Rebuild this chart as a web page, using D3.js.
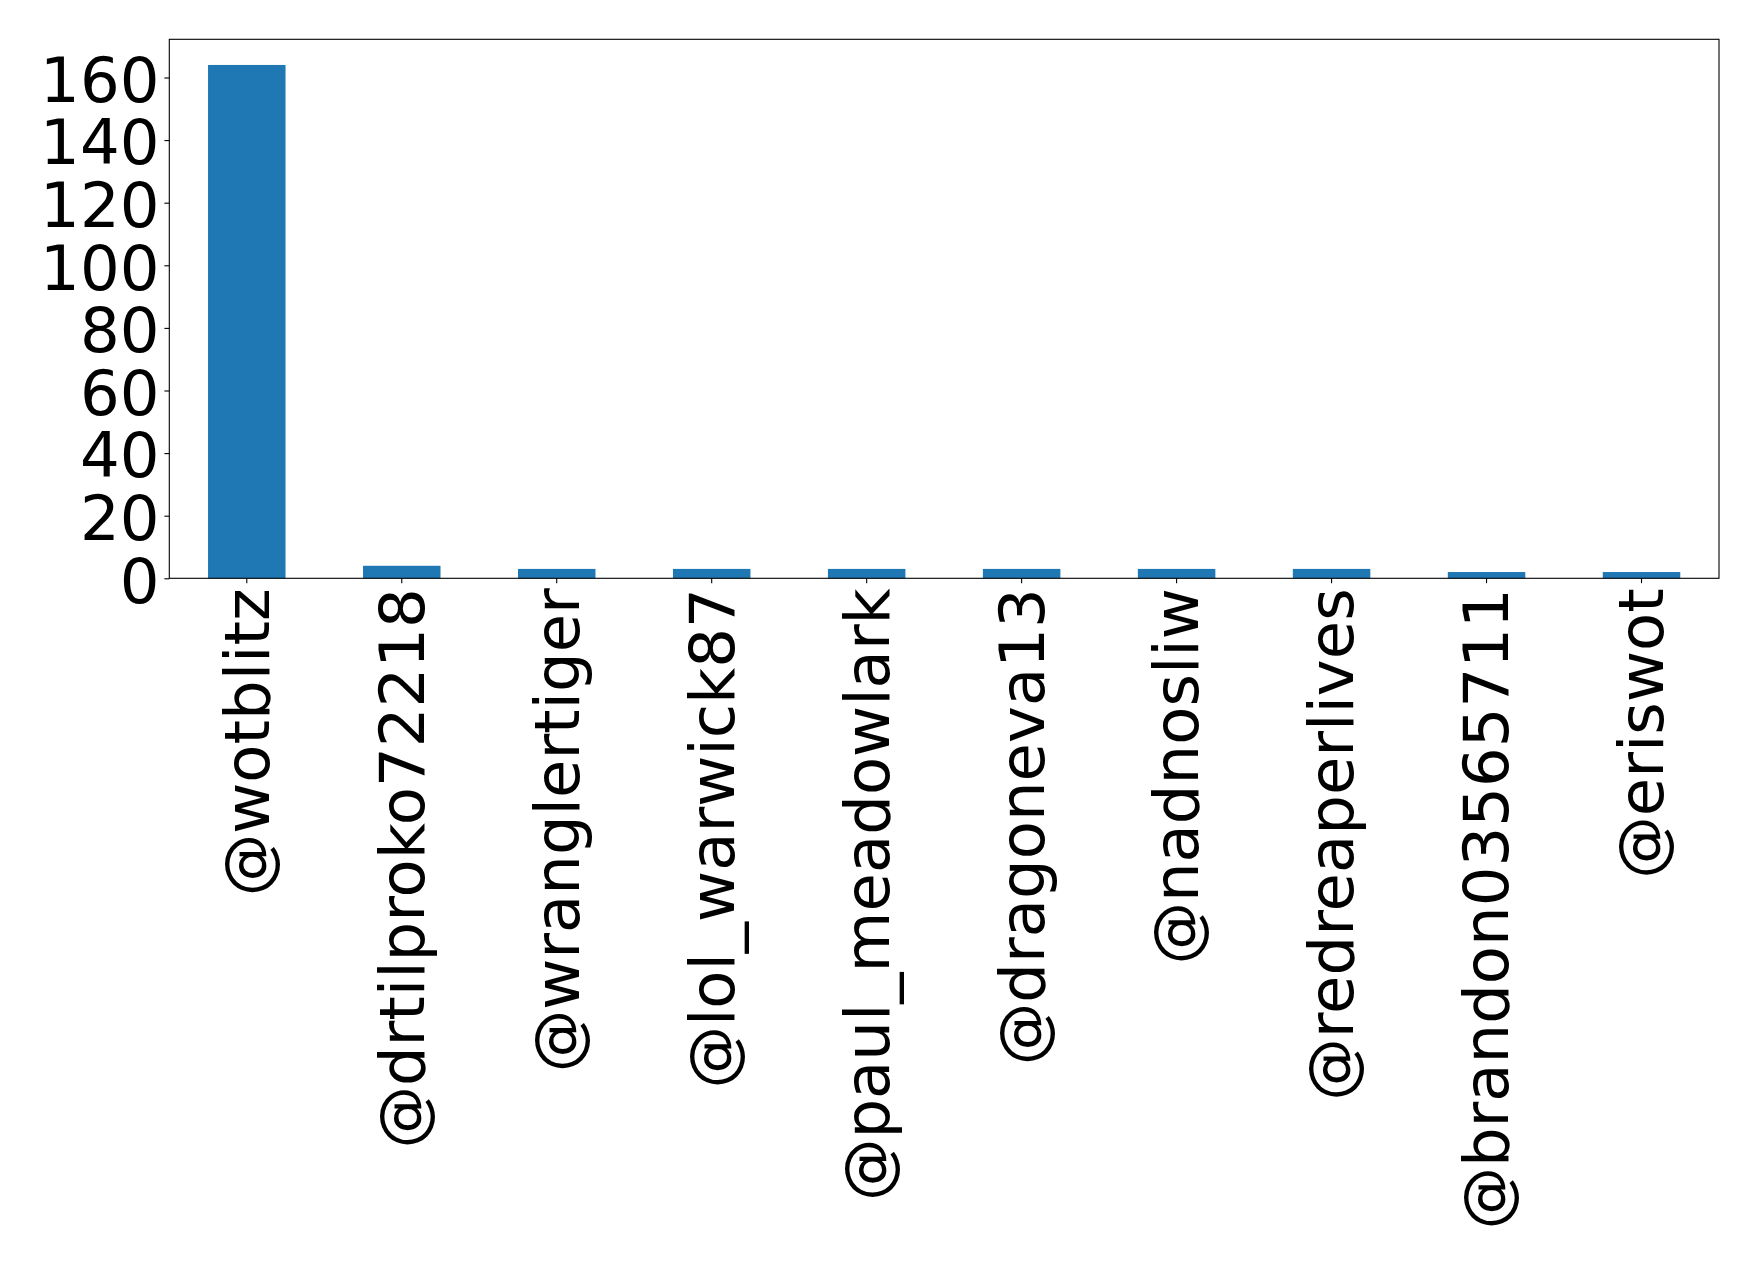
<!DOCTYPE html>
<html>
<head>
<meta charset="utf-8">
<script src="https://cdn.jsdelivr.net/npm/d3@7"></script>
<style>
  body { margin: 0; background: #fff; }
  text { font-family: "DejaVu Sans", sans-serif; }
</style>
</head>
<body>
<div id="chart"></div>
<script>
// data
var users = ["@wotblitz", "@drtilproko72218", "@wranglertiger", "@lol_warwick87",
             "@paul_meadowlark", "@dragoneva13", "@nadnosliw", "@redreaperlives",
             "@brandon03565711", "@eriswot"];
var counts = [164, 4, 3, 3, 3, 3, 3, 3, 2, 2];
var yTicks = [0, 20, 40, 60, 80, 100, 120, 140, 160];

var svgWidth = 1758;
var svgHeight = 1269;

var plot = { left: 169.3, right: 1719, top: 39.3, bottom: 578.3 };
var fontSize = 62.5;

var svg = d3.select("#chart")
    .append("svg")
    .attr("width", svgWidth)
    .attr("height", svgHeight);

var xScale = d3.scaleBand()
    .domain(users)
    .range([plot.left, plot.right])
    .paddingInner(0.5)
    .paddingOuter(0.25);

var yScale = d3.scaleLinear()
    .domain([0, d3.max(counts) * 1.05])
    .range([plot.bottom, plot.top]);

// bars
svg.append("g")
    .selectAll("rect")
    .data(counts)
    .enter()
    .append("rect")
    .attr("x", (d, i) => xScale(users[i]))
    .attr("y", d => yScale(d))
    .attr("width", xScale.bandwidth())
    .attr("height", d => yScale(0) - yScale(d))
    .attr("fill", "#1f77b4");

// axes
var bottomAxis = d3.axisBottom(xScale).tickSize(4.9).tickPadding(5).tickSizeOuter(0);
var leftAxis = d3.axisLeft(yScale).tickValues(yTicks).tickSize(4.9).tickPadding(5).tickSizeOuter(0);

var xAxisG = svg.append("g")
    .attr("transform", `translate(0, ${plot.bottom})`)
    .call(bottomAxis);

xAxisG.selectAll(".tick text")
    .attr("font-size", fontSize)
    .attr("font-family", "DejaVu Sans")
    .attr("fill", "#000")
    .attr("text-anchor", "end")
    .attr("x", 0)
    .attr("y", 0)
    .attr("dy", "0.35em")
    .attr("transform", "translate(0, 9.9) rotate(-90)");

var yAxisG = svg.append("g")
    .attr("transform", `translate(${plot.left}, 0)`)
    .call(leftAxis);

yAxisG.selectAll(".tick text")
    .attr("font-size", fontSize)
    .attr("font-family", "DejaVu Sans")
    .attr("fill", "#000")
    .attr("dy", "0.38em");

svg.selectAll(".domain").remove();
svg.selectAll(".tick line").attr("stroke", "#000").attr("stroke-width", 1.1);

// frame
svg.append("rect")
    .attr("x", plot.left)
    .attr("y", plot.top)
    .attr("width", plot.right - plot.left)
    .attr("height", plot.bottom - plot.top)
    .attr("fill", "none")
    .attr("stroke", "#000")
    .attr("stroke-width", 1.1);
</script>
</body>
</html>
